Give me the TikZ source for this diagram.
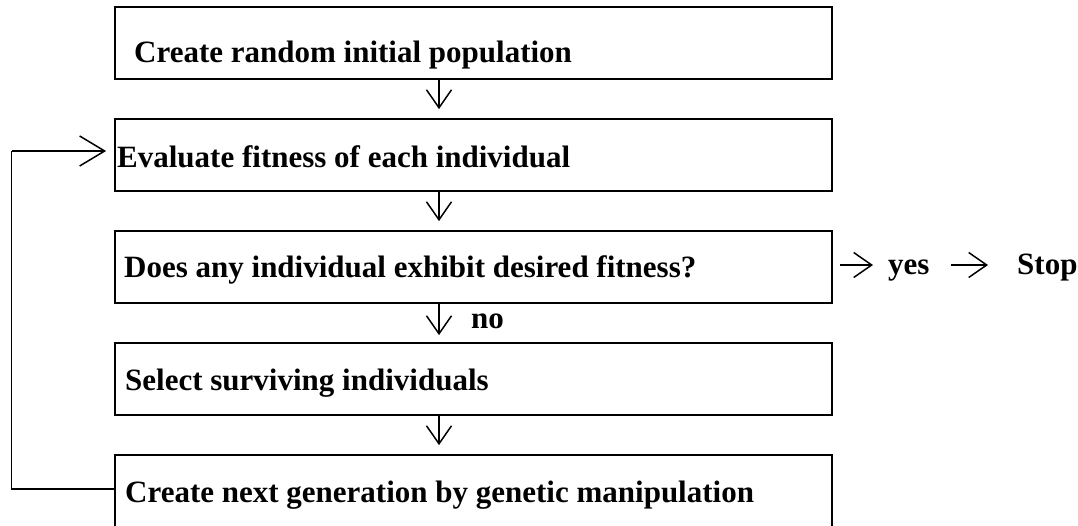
\documentclass[tikz,border=0pt]{standalone}
\usepackage{fontspec}
\setmainfont{Liberation Serif}[Ligatures=CommonOff]
\usetikzlibrary{arrows.meta}
\tikzset{
  box/.style={draw, line width=1.8pt, minimum width=717pt, minimum height=72pt, inner sep=0pt},
  lbl/.style={font=\fontsize{31}{34}\selectfont\bfseries, inner sep=0pt, anchor=base west},
  arr/.style={line width=1.5pt, -{Straight Barb[length=18pt, width=25pt]}},
  looparr/.style={line width=1.5pt, -{Straight Barb[length=25pt, width=30pt]}},
  loopline/.style={line width=1.8pt}
}
\begin{document}
\begin{tikzpicture}[x=1pt, y=-1pt]
\useasboundingbox (0,0) rectangle (1078,525);
\clip (0,0) rectangle (1078,525);
% boxes
\node[box] (b1) at (473.5,43) {};
\node[box] (b2) at (473.5,155) {};
\node[box] (b3) at (473.5,267) {};
\node[box] (b4) at (473.5,379) {};
\node[box] (b5) at (473.5,491) {};
% texts
\node[lbl] (t1) at (134,62) {Create random initial population};
\node[lbl] (t2) at (117,167) {Evaluate fitness of each individual};
\node[lbl] (t3) at (124,277) {Does any individual exhibit desired fitness?};
\node[lbl] (t4) at (125,390) {Select surviving individuals};
\node[lbl] (t5) at (125,502) {Create next generation by genetic manipulation};
\node[lbl] (no) at (471,328) {no};
\node[lbl] (yes) at (888,274) {yes};
\node[lbl] (stop) at (1017,274) {Stop};
% down arrows
\coordinate (ax) at (439,0);
\draw[arr] (b1.south -| ax) -- ([yshift=9pt]b2.north -| ax);
\draw[arr] (b2.south -| ax) -- ([yshift=9pt]b3.north -| ax);
\draw[arr] (b3.south -| ax) -- ([yshift=7pt]b4.north -| ax);
\draw[arr] (b4.south -| ax) -- ([yshift=9pt]b5.north -| ax);
% yes / stop arrows
\draw[arr] ([xshift=7pt,yshift=2pt]b3.east) -- ([xshift=-15pt,yshift=2pt]b3.east -| yes.west);
\draw[arr] ([xshift=21pt,yshift=2pt]b3.east -| yes.east) -- ([xshift=-29pt,yshift=2pt]b3.east -| stop.west);
% loop
\coordinate (lx) at (11.5,0);
\draw[loopline] ([yshift=2pt]b5.west) -- ([yshift=2pt]b5.west -| lx) -- ([yshift=4pt]b2.west -| lx);
\draw[looparr] ([yshift=4pt]b2.west -| lx) -- ([xshift=-8pt,yshift=4pt]b2.west);
\end{tikzpicture}
\end{document}
